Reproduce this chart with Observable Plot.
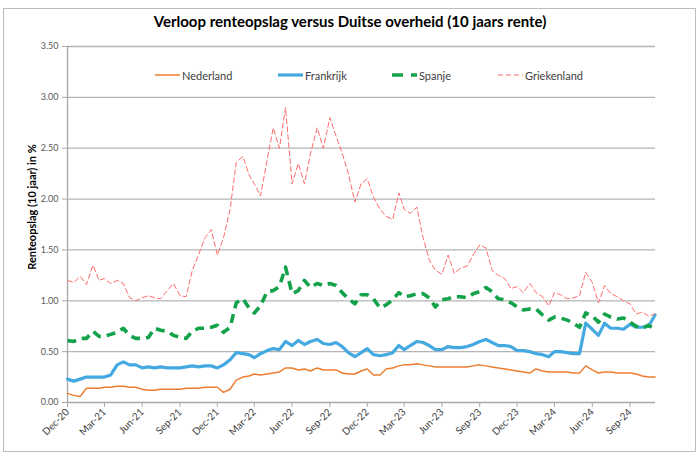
<!DOCTYPE html>
<html>
<head>
<meta charset="utf-8">
<script src="https://cdn.jsdelivr.net/npm/d3@7"></script>
<script src="https://cdn.jsdelivr.net/npm/@observablehq/plot@0.6"></script>
<style>
html, body { margin: 0; padding: 0; background: #fff; }
#wrap { position: relative; width: 700px; height: 460px; overflow: hidden; font-family: Lato, "Open Sans", sans-serif; }
#frame { position: absolute; left: 3px; top: 8px; width: 693px; height: 444px; border: 1px solid #bdbdbd; box-sizing: border-box; }
#title { position: absolute; left: 0; width: 700px; top: 12px; text-align: center; font-weight: bold; font-size: 15px; color: #000; }
.leg { position: absolute; top: 68px; font-size: 11px; color: #404040; white-space: nowrap; display: flex; align-items: center; height: 14px; }
.leg svg { display: block; margin-right: 2px; }
#ylab { position: absolute; left: 31px; top: 207px; transform: translate(-50%, -50%) rotate(-90deg); font-weight: bold; font-size: 11px; color: #000; white-space: nowrap; }
#chart { position: absolute; left: 0; top: 0; }
</style>
</head>
<body>
<div id="wrap">
  <div id="frame"></div>
  <div id="chart"></div>
  <div id="title"></div>
  <div id="ylab"></div>
  <div id="legend"></div>
</div>
<script>
const title = "Verloop renteopslag versus Duitse overheid (10 jaars rente)";
const yLabel = "Renteopslag (10 jaar) in %";
const seriesNames = ["Nederland", "Frankrijk", "Spanje", "Griekenland"];

const dates = [
  "2020-12-01","2020-12-16",
  "2021-01-01","2021-01-16","2021-02-01","2021-02-16","2021-03-01","2021-03-16","2021-04-01","2021-04-16",
  "2021-05-01","2021-05-16","2021-06-01","2021-06-16","2021-07-01","2021-07-16","2021-08-01","2021-08-16",
  "2021-09-01","2021-09-16","2021-10-01","2021-10-16","2021-11-01","2021-11-16","2021-12-01","2021-12-16",
  "2022-01-01","2022-01-16","2022-02-01","2022-02-16","2022-03-01","2022-03-16","2022-04-01","2022-04-16",
  "2022-05-01","2022-05-16","2022-06-01","2022-06-16","2022-07-01","2022-07-16","2022-08-01","2022-08-16",
  "2022-09-01","2022-09-16","2022-10-01","2022-10-16","2022-11-01","2022-11-16","2022-12-01","2022-12-16",
  "2023-01-01","2023-01-16","2023-02-01","2023-02-16","2023-03-01","2023-03-16","2023-04-01","2023-04-16",
  "2023-05-01","2023-05-16","2023-06-01","2023-06-16","2023-07-01","2023-07-16","2023-08-01","2023-08-16",
  "2023-09-01","2023-09-16","2023-10-01","2023-10-16","2023-11-01","2023-11-16","2023-12-01","2023-12-16",
  "2024-01-01","2024-01-16","2024-02-01","2024-02-16","2024-03-01","2024-03-16","2024-04-01","2024-04-16",
  "2024-05-01","2024-05-16","2024-06-01","2024-06-16","2024-07-01","2024-07-16","2024-08-01","2024-08-16",
  "2024-09-01","2024-09-16","2024-10-01","2024-10-16","2024-11-01"
];

const nederland = [
  0.09,0.07,0.06,0.14,0.14,0.14,0.15,0.15,0.16,0.16,
  0.15,0.15,0.13,0.12,0.12,0.13,0.13,0.13,0.13,0.14,
  0.14,0.14,0.15,0.15,0.15,0.10,0.13,0.22,0.25,0.26,
  0.28,0.27,0.28,0.29,0.30,0.34,0.34,0.32,0.33,0.31,
  0.34,0.32,0.32,0.32,0.29,0.28,0.28,0.31,0.33,0.27,
  0.27,0.33,0.34,0.36,0.37,0.37,0.38,0.37,0.36,0.35,
  0.35,0.35,0.35,0.35,0.35,0.36,0.37,0.36,0.35,0.34,
  0.33,0.32,0.31,0.30,0.29,0.33,0.31,0.30,0.30,0.30,
  0.30,0.29,0.29,0.36,0.32,0.29,0.30,0.30,0.29,0.29,
  0.29,0.28,0.26,0.25,0.25
];

const frankrijk = [
  0.23,0.21,0.23,0.25,0.25,0.25,0.25,0.27,0.37,0.40,
  0.37,0.37,0.34,0.35,0.34,0.35,0.34,0.34,0.34,0.35,
  0.36,0.35,0.36,0.36,0.34,0.37,0.42,0.49,0.48,0.47,
  0.44,0.48,0.51,0.53,0.52,0.60,0.56,0.61,0.57,0.60,
  0.62,0.58,0.57,0.59,0.55,0.49,0.45,0.49,0.53,0.47,
  0.46,0.47,0.49,0.56,0.52,0.56,0.60,0.59,0.56,0.52,
  0.52,0.55,0.54,0.54,0.55,0.57,0.60,0.62,0.59,0.56,
  0.56,0.55,0.51,0.51,0.50,0.48,0.47,0.45,0.50,0.50,
  0.49,0.48,0.48,0.78,0.72,0.66,0.78,0.73,0.73,0.72,
  0.77,0.74,0.74,0.75,0.86
];

const spanje = [
  0.61,0.60,0.63,0.63,0.70,0.65,0.65,0.67,0.69,0.73,
  0.66,0.63,0.63,0.64,0.73,0.71,0.70,0.66,0.64,0.63,
  0.70,0.73,0.73,0.74,0.76,0.69,0.74,0.98,1.02,0.93,
  0.88,0.95,1.09,1.10,1.14,1.33,1.07,1.10,1.20,1.13,
  1.17,1.15,1.17,1.15,1.08,1.02,0.97,1.06,1.06,1.02,
  0.93,0.96,1.01,1.08,1.04,1.05,1.07,1.07,1.03,0.94,
  1.01,1.02,1.04,1.04,1.03,1.07,1.09,1.13,1.09,1.02,
  1.01,0.98,0.94,0.91,0.92,0.92,0.86,0.81,0.84,0.83,
  0.81,0.78,0.74,0.88,0.85,0.79,0.87,0.84,0.82,0.83,
  0.79,0.75,0.73,0.76,0.72
];

const griekenland = [
  1.20,1.18,1.24,1.16,1.35,1.20,1.22,1.17,1.20,1.17,
  1.03,1.00,1.03,1.05,1.03,1.02,1.10,1.17,1.05,1.04,
  1.30,1.45,1.62,1.70,1.45,1.62,1.90,
  2.36,2.42,2.24,2.15,2.03,2.38,2.70,2.50,2.90,2.15,
  2.35,2.15,2.45,2.70,2.50,2.80,2.62,2.45,2.25,1.97,
  2.15,2.20,2.02,1.90,1.83,1.80,2.06,1.90,1.86,1.92,
  1.62,1.40,1.30,1.26,1.45,1.27,1.32,1.34,1.45,1.55,
  1.52,1.30,1.25,1.22,1.12,1.14,1.08,1.17,1.08,1.04,
  0.95,1.08,1.06,1.02,1.03,1.05,1.28,1.18,0.98,1.15,
  1.07,1.04,1.00,0.97,0.87,0.89,0.85,0.87
];

const xTickDates = ["2020-12-01","2021-03-01","2021-06-01","2021-09-01","2021-12-01","2022-03-01","2022-06-01","2022-09-01",
  "2022-12-01","2023-03-01","2023-06-01","2023-09-01","2023-12-01","2024-03-01","2024-06-01","2024-09-01"];
const xTickLabels = ["Dec-20","Mar-21","Jun-21","Sep-21","Dec-21","Mar-22","Jun-22","Sep-22",
  "Dec-22","Mar-23","Jun-23","Sep-23","Dec-23","Mar-24","Jun-24","Sep-24"];
const yTicks = [0, 0.5, 1, 1.5, 2, 2.5, 3, 3.5];
const xDomain = ["2020-12-01", "2024-11-02"];

const colors = ["#ED7D31", "#45A9E1", "#13A24A", "#FF6B6B"];

// build table
const rows = dates.map((d, i) => ({
  date: new Date(d),
  nl: nederland[i], fr: frankrijk[i], es: spanje[i], gr: griekenland[i]
}));
const xTicks = xTickDates.map(d => new Date(d));
const labelMap = new Map(xTicks.map((d, i) => [+d, xTickLabels[i]]));

const chart = Plot.plot({
  width: 700,
  height: 460,
  marginLeft: 67,
  marginRight: 45,
  marginTop: 46,
  marginBottom: 58,
  style: { fontFamily: "Lato, 'Open Sans', sans-serif", background: "transparent", overflow: "visible" },
  x: { type: "utc", domain: xDomain.map(d => new Date(d)) },
  y: { domain: [0, 3.5] },
  marks: [
    Plot.ruleY(yTicks.slice(1), { stroke: "#b5b5b5", strokeWidth: 1.3 }),
    Plot.ruleY([0], { stroke: "#a8a8a8", strokeWidth: 1.3 }),
    Plot.ruleX([xTicks[0]], { stroke: "#a8a8a8", strokeWidth: 1.3 }),
    Plot.axisY(yTicks, { tickFormat: d3.format(".2f"), tickSize: 5, tickPadding: 4, fontSize: 9, color: "#595959", label: null, stroke: "#a8a8a8" }),
    Plot.axisX(xTicks, { tickFormat: d => labelMap.get(+d), tickSize: 5, tickPadding: 3, tickRotate: -45, fontSize: 10, color: "#404040", label: null, stroke: "#a8a8a8" }),
    Plot.line(rows, { x: "date", y: "nl", stroke: colors[0], strokeWidth: 1.5 }),
    Plot.line(rows, { x: "date", y: "fr", stroke: colors[1], strokeWidth: 3.2 }),
    Plot.line(rows, { x: "date", y: "es", stroke: colors[2], strokeWidth: 3.6, strokeDasharray: "9,6", strokeLinecap: "butt" }),
    Plot.line(rows, { x: "date", y: "gr", stroke: colors[3], strokeWidth: 1, strokeDasharray: "5,3" })
  ]
});
document.getElementById("chart").appendChild(chart);

document.getElementById("title").textContent = title;
document.getElementById("ylab").textContent = yLabel;

const legendX = [155, 278, 392, 498];
const legendStyles = [
  { w: 1.5, dash: null },
  { w: 3.2, dash: null },
  { w: 3.6, dash: "11,8" },
  { w: 1, dash: "5,3" }
];
const legend = document.getElementById("legend");
seriesNames.forEach((name, i) => {
  const div = document.createElement("div");
  div.className = "leg";
  div.style.left = legendX[i] + "px";
  const svg = d3.create("svg").attr("width", 25).attr("height", 14);
  svg.append("line").attr("x1", 0).attr("x2", 25).attr("y1", 7).attr("y2", 7)
    .attr("stroke", colors[i]).attr("stroke-width", legendStyles[i].w)
    .attr("stroke-dasharray", legendStyles[i].dash);
  div.appendChild(svg.node());
  const span = document.createElement("span");
  span.textContent = name;
  div.appendChild(span);
  legend.appendChild(div);
});
</script>
</body>
</html>
